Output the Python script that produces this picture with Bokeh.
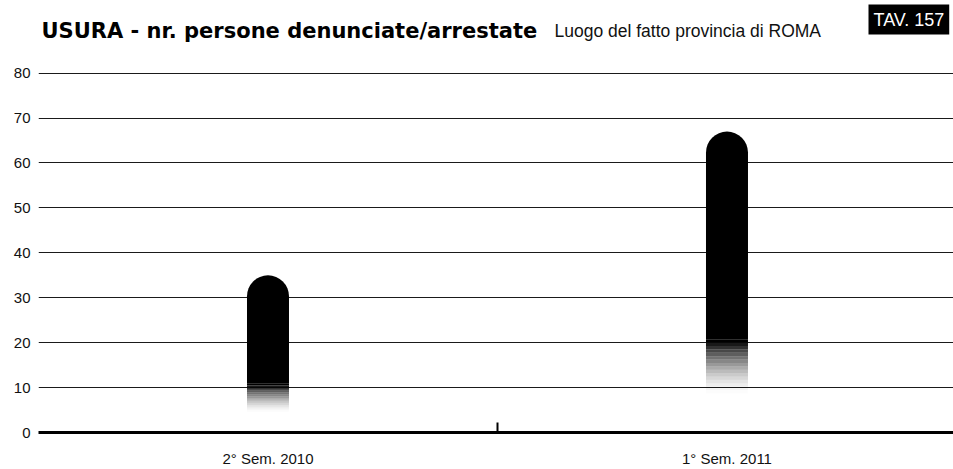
from bokeh.plotting import figure
from bokeh.models import FixedTicker, Label, Range1d
from bokeh.embed import file_html
from bokeh.resources import INLINE

# ---- data ----
categories = ["2° Sem. 2010", "1° Sem. 2011"]
values = [35, 67]
y_ticks = [0, 10, 20, 30, 40, 50, 60, 70, 80]

title_text = "USURA - nr. persone denunciate/arrestate"
subtitle_text = "Luogo del fatto provincia di ROMA"
tag_text = "TAV. 157"

FONT = "Liberation Sans"

xs = [i + 0.5 for i in range(len(categories))]
bar_w = 0.0915
solid_frac = 0.31
fade_frac = 0.13

W, H = 953, 469
# frame spans from the top of the canvas down to y=0 (page y=434)
p = figure(width=W, height=H, output_backend="svg", toolbar_location=None,
           x_range=Range1d(0, 1.9935), y_range=Range1d(0, 80 * 434 / 361),
           min_border_left=38, min_border_right=0, min_border_top=0,
           min_border_bottom=35)
p.outline_line_color = None
p.background_fill_color = "white"
p.border_fill_color = "white"

# grid
p.xgrid.visible = False
p.ygrid.ticker = FixedTicker(ticks=y_ticks)
p.ygrid.grid_line_color = "#1a1a1a"
p.ygrid.grid_line_width = 1.2

# faded lower part of each bar
n = 16
lefts, rights, bots, tops, alphas = [], [], [], [], []
for x, v in zip(xs, values):
    b0 = v * fade_frac
    b1 = v * solid_frac
    step = (b1 - b0) / n
    for k in range(n):
        lefts.append(x - bar_w / 2)
        rights.append(x + bar_w / 2)
        bots.append(b0 + k * step)
        tops.append(b0 + (k + 1) * step)
        t = (k + 1) / n
        alphas.append(t ** 1.6)
p.quad(left=lefts, right=rights, bottom=bots, top=tops, fill_color="black",
       fill_alpha=alphas, line_color=None)

# solid part with rounded top
p.vbar(x=xs, top=values, bottom=[v * solid_frac for v in values], width=bar_w,
       fill_color="black", line_color=None, border_radius=(21, 21, 0, 0))

# x axis
p.xaxis.ticker = FixedTicker(ticks=xs, minor_ticks=list(range(1, len(categories))))
p.xaxis.major_label_overrides = {x: c for x, c in zip(xs, categories)}
p.xaxis.major_tick_in = 0
p.xaxis.major_tick_out = 0
p.xaxis.minor_tick_in = 10
p.xaxis.minor_tick_out = 0
p.xaxis.minor_tick_line_width = 2
p.xaxis.minor_tick_line_color = "black"
p.xaxis.axis_line_width = 3
p.xaxis.axis_line_color = "black"
p.xaxis.major_label_standoff = 17
p.xaxis.major_label_text_font = FONT
p.xaxis.major_label_text_font_size = "15px"
p.xaxis.major_label_text_color = "#111111"

# y axis
p.yaxis.ticker = FixedTicker(ticks=y_ticks)
p.yaxis.axis_line_color = None
p.yaxis.major_tick_in = 0
p.yaxis.major_tick_out = 0
p.yaxis.minor_tick_line_color = None
p.yaxis.major_label_standoff = 8
p.yaxis.major_label_text_font = FONT
p.yaxis.major_label_text_font_size = "15px"
p.yaxis.major_label_text_color = "#111111"

# titles (screen units are measured from the frame's bottom-left corner)
base_y = 434 - 32
p.add_layout(Label(x=3, y=base_y, x_units="screen", y_units="screen",
                   text=title_text, text_font="DejaVu Sans", text_font_style="bold",
                   text_font_size="21px", text_color="black",
                   text_baseline="alphabetic"))
p.add_layout(Label(x=516, y=base_y, x_units="screen", y_units="screen",
                   text=subtitle_text, text_font=FONT,
                   text_font_size="17.5px", text_color="#111111",
                   text_baseline="alphabetic"))
p.add_layout(Label(x=830, y=434 - 21, x_units="screen", y_units="screen",
                   text=tag_text, text_font=FONT,
                   text_font_size="18px", text_color="white",
                   background_fill_color="black", padding=5,
                   text_baseline="alphabetic"))

open("out.html", "w").write(file_html(p, INLINE))
